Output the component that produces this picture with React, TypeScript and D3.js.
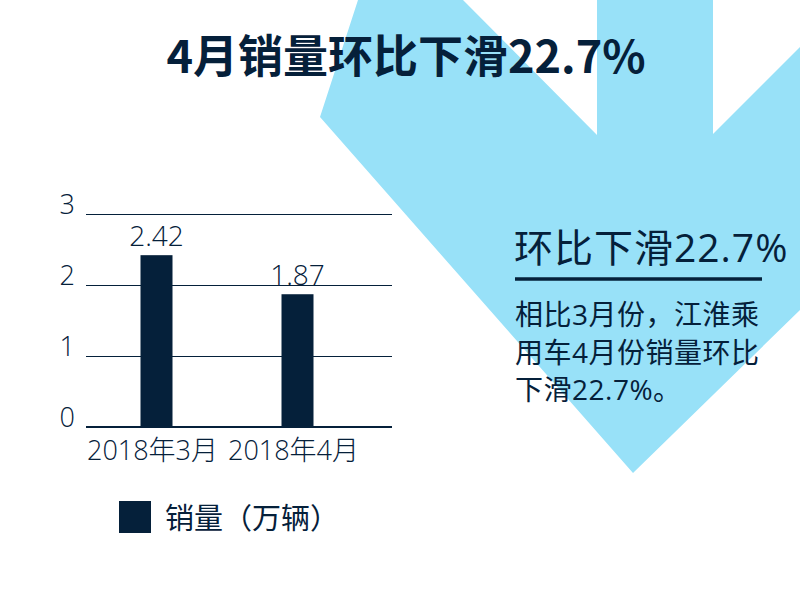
import React from 'react';
import * as d3 from 'd3';

const categories = ['2018年3月', '2018年4月'];
const sales = [2.42, 1.87];
const yTicks = [0, 1, 2, 3];
const seriesName = '销量（万辆）';
const title = '4月销量环比下滑22.7%';
const headline = '环比下滑22.7%';
const bodyLines = ['相比3月份，江淮乘', '用车4月份销量环比', '下滑22.7%。'];

const NAVY = '#05203a';
const SKY = '#98e1f8';
const FONT = '"Open Sans", "Noto Sans CJK SC", sans-serif';

// background arrow (decoration)
const arrow: [number, number][] = [
  [358, 0], [463, 0], [597, 135], [597, 0], [713, 0], [713, 134],
  [800, 47], [800, 310], [633, 473], [320, 117],
];

export default function App() {
  const width = 800;
  const height = 600;
  const margin = { left: 86, right: 408, top: 214, bottom: 173 };

  const x = d3.scaleBand<string>().domain(categories).range([margin.left, 368]).padding(0);
  const y = d3.scaleLinear().domain([0, 3]).range([height - margin.bottom, margin.top]);
  const barW = 32;
  const line = d3.line();

  return (
    <svg
      width={width}
      height={height}
      style={{ position: 'absolute', left: 0, top: 0, background: '#fff' }}
      fontFamily={FONT}
    >
      <path d={line(arrow)! + 'Z'} fill={SKY} />

      <text x={406} y={73} textAnchor="middle" fontSize={45} fontWeight="bold" fill={NAVY}
        fontFamily='"Noto Sans CJK SC", sans-serif'>
        {title}
      </text>

      {/* grid */}
      {yTicks.map(t => (
        <g key={t}>
          <line x1={margin.left} x2={width - margin.right} y1={y(t)} y2={y(t)}
            stroke={NAVY} strokeWidth={t === 0 ? 2.5 : 1} shapeRendering="crispEdges" />
          <text x={75} y={y(t)} textAnchor="end" fontSize={27} fontWeight={300} fill={NAVY}>{t}</text>
        </g>
      ))}

      {/* bars */}
      {sales.map((v, i) => {
        const cx = x(categories[i])! + x.bandwidth() / 2;
        return (
          <g key={i}>
            <rect x={cx - barW / 2} y={y(v)} width={barW} height={y(0) - y(v)} fill={NAVY} />
            <text x={cx} y={y(v) - 9} textAnchor="middle" fontSize={28} fontWeight={300} fill={NAVY}>
              {v.toFixed(2)}
            </text>
            <text x={cx - 4} y={460} textAnchor="middle" fontSize={27} fontWeight={300} fill={NAVY}>
              {categories[i]}
            </text>
          </g>
        );
      })}

      {/* legend */}
      <rect x={119} y={501} width={32} height={32} fill={NAVY} />
      <text x={165} y={529} fontSize={29} fill={NAVY}>{seriesName}</text>

      {/* right annotation */}
      <text x={514} y={262} fontSize={39} letterSpacing={1} fill={NAVY}>{headline}</text>
      <line x1={515} x2={762} y1={279} y2={279} stroke={NAVY} strokeWidth={3.5} />
      {bodyLines.map((l, i) => (
        <text key={i} x={515} y={325 + i * 37.5} fontSize={28} letterSpacing={0.5} fill={NAVY}>{l}</text>
      ))}
    </svg>
  );
}
